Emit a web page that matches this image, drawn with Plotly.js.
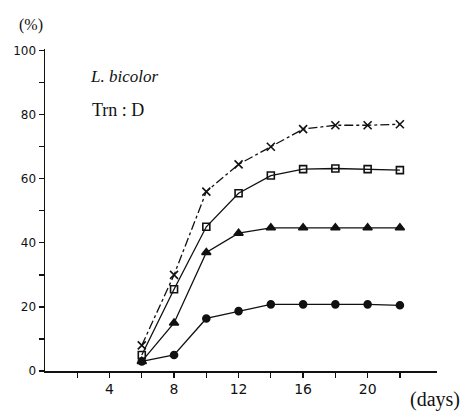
<!DOCTYPE html>
<html>
<head>
<meta charset="utf-8">
<script src="https://cdn.plot.ly/plotly-3.0.1.min.js"></script>
<style>html,body{margin:0;padding:0;background:#fff;}#chart{width:473px;height:417px;}</style>
</head>
<body>
<div id="chart"></div>
<script>
const days = [6, 8, 10, 12, 14, 16, 18, 20, 22];
const seriesCross = [8, 30, 56, 64.5, 70, 75.5, 76.7, 76.7, 77];
const seriesSquare = [5, 25.5, 45, 55.5, 61, 63, 63.2, 63, 62.7];
const seriesTriangle = [3, 15, 37, 43, 44.7, 44.7, 44.7, 44.7, 44.7];
const seriesCircle = [3, 5, 16.4, 18.7, 20.8, 20.8, 20.8, 20.8, 20.5];
const xTickVals = [2, 4, 6, 8, 10, 12, 14, 16, 18, 20, 22];
const xTickText = ['', '4', '', '8', '', '12', '', '16', '', '20', ''];
const yTickVals = [0, 10, 20, 30, 40, 50, 60, 70, 80, 90, 100];
const yTickText = ['0', '', '20', '', '40', '', '60', '', '80', '', '100'];

function tr(y, sym, size, dash) {
  return {
    x: days, y: y, type: 'scatter', mode: 'lines+markers',
    line: {color: '#111', width: 1.3, dash: dash || 'solid'},
    marker: {symbol: sym, size: size, color: '#111', line: {color: '#111', width: 1.6}},
    showlegend: false, hoverinfo: 'skip'
  };
}

const data = [
  tr(seriesCross, 'x-thin', 8, 'dashdot'),
  tr(seriesSquare, 'square-open', 7),
  tr(seriesTriangle, 'triangle-up', 8),
  tr(seriesCircle, 'circle', 7)
];

const layout = {
  width: 473, height: 417,
  margin: {l: 45, r: 36, t: 49, b: 46},
  paper_bgcolor: '#fff', plot_bgcolor: '#fff',
  font: {family: 'DejaVu Sans', color: '#111', size: 13},
  xaxis: {
    range: [0, 24.3], showgrid: false, zeroline: false,
    showline: true, linecolor: '#111', linewidth: 1.5,
    tickmode: 'array', tickvals: xTickVals, ticktext: xTickText,
    ticks: 'outside', ticklen: 5, tickwidth: 1.3, tickcolor: '#111',
    tickfont: {family: 'DejaVu Sans', size: 14, color: '#111'}
  },
  yaxis: {
    range: [0, 100.5], showgrid: false, zeroline: false,
    showline: true, linecolor: '#111', linewidth: 1.5,
    tickmode: 'array', tickvals: yTickVals, ticktext: yTickText,
    ticks: 'outside', ticklen: 5, tickwidth: 1.3, tickcolor: '#111',
    tickfont: {family: 'DejaVu Sans', size: 12, color: '#111'}
  },
  annotations: [
    {xref: 'paper', yref: 'paper', x: 0.11, y: 0.915, xanchor: 'left', yanchor: 'middle', showarrow: false,
     text: '<i>L. bicolor</i>', font: {family: 'Liberation Serif', size: 17, color: '#111'}},
    {xref: 'paper', yref: 'paper', x: 0.115, y: 0.81, xanchor: 'left', yanchor: 'middle', showarrow: false,
     text: 'Trn\u00a0:\u00a0D', font: {family: 'Liberation Serif', size: 18, color: '#111'}},
    {xref: 'paper', yref: 'paper', x: -0.035, y: 1.075, xanchor: 'center', yanchor: 'middle', showarrow: false,
     text: '(%)', font: {family: 'Liberation Serif', size: 16, color: '#111'}},
    {xref: 'paper', yref: 'paper', x: 1.065, y: -0.09, xanchor: 'right', yanchor: 'middle', showarrow: false,
     text: '(days)', font: {family: 'Liberation Serif', size: 20, color: '#111'}}
  ]
};

Plotly.newPlot('chart', data, layout, {displayModeBar: false, staticPlot: true});
</script>
</body>
</html>
